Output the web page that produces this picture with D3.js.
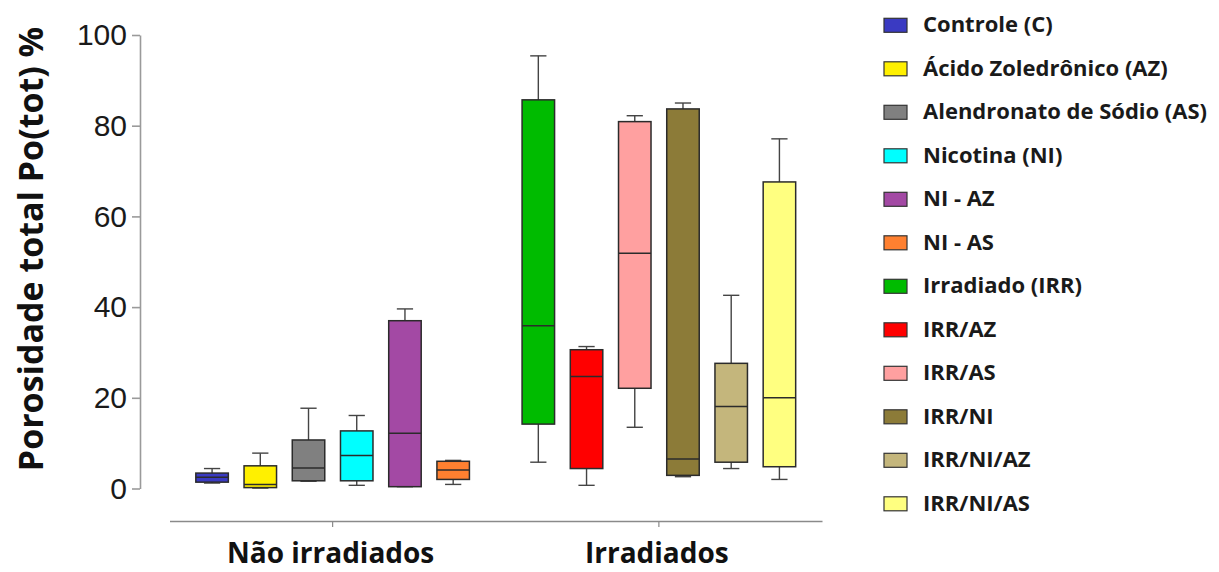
<!DOCTYPE html>
<html>
<head>
<meta charset="utf-8">
<script src="https://cdnjs.cloudflare.com/ajax/libs/d3/7.8.5/d3.min.js"></script>
<style>
  body { margin: 0; background: #fff; }
  .axis-label { font-family: "Open Sans", sans-serif; font-weight: bold; fill: #111; }
  .tick-label { font-family: "Liberation Sans", Arial, sans-serif; }
  .legend text { font-family: "Open Sans", sans-serif; font-weight: bold; fill: #1a1a1a; }
</style>
</head>
<body>
<div id="chart"></div>
<script>
// groups on the x axis
var groups = ["Não irradiados", "Irradiados"];

// series (one box per series)
var seriesNames = ["Controle (C)", "Ácido Zoledrônico (AZ)", "Alendronato de Sódio (AS)", "Nicotina (NI)",
  "NI - AZ", "NI - AS", "Irradiado (IRR)", "IRR/AZ", "IRR/AS", "IRR/NI", "IRR/NI/AZ", "IRR/NI/AS"];
var seriesGroup = [0, 0, 0, 0, 0, 0, 1, 1, 1, 1, 1, 1];
var seriesColors = ["#3a3ac2", "#fff000", "#808080", "#00ffff", "#a349a4", "#ff8030",
  "#00bb00", "#ff0000", "#ffa0a0", "#8c7b38", "#c4b67c", "#ffff80"];

// box plot values
var whiskerLow  = [1.2, 0.1, 1.6, 0.7, 0.4, 0.9, 5.8, 0.7, 13.5, 2.6, 4.4, 2.0];
var q1          = [1.4, 0.2, 1.7, 1.7, 0.4, 2.0, 14.2, 4.4, 22.1, 2.9, 5.8, 4.8];
var median      = [2.5, 0.9, 4.5, 7.3, 12.2, 4.1, 35.9, 24.7, 51.9, 6.5, 18.1, 20.0];
var q3          = [3.4, 5.0, 10.7, 12.7, 37.0, 6.0, 85.7, 30.6, 80.9, 83.7, 27.6, 67.6];
var whiskerHigh = [4.4, 7.8, 17.7, 16.1, 39.6, 6.2, 95.4, 31.3, 82.2, 85.0, 42.6, 77.1];

var yTicks = [0, 20, 40, 60, 80, 100];
var yLabel = "Porosidade total Po(tot) %";

function BoxChart(chartId) {
  var containerwidth = 1219;
  var containerheight = 572;

  var svg = d3.select(chartId)
    .append("svg")
    .attr("width", containerwidth)
    .attr("height", containerheight);

  var data = seriesNames.map(function(name, i) {
    var inGroup = seriesGroup.slice(0, i).filter(function(g) { return g === seriesGroup[i]; }).length;
    return {
      key: name, group: groups[seriesGroup[i]], slot: inGroup, color: seriesColors[i],
      lo: whiskerLow[i], q1: q1[i], med: median[i], q3: q3[i], hi: whiskerHigh[i]
    };
  });

  // scales
  var x0Scale = d3.scaleBand().domain(groups).range([169.5, 822]);
  var x1Scale = d3.scaleBand().domain(d3.range(6))
    .range([0, x0Scale.bandwidth()]).paddingInner(0.326).paddingOuter(0.546);
  var yScale = d3.scaleLinear().domain([0, 100]).range([488.5, 35]);

  // y axis
  var yAxis = d3.axisLeft(yScale).tickValues(yTicks).tickSize(8).tickPadding(5).tickSizeOuter(0);
  var yAxisG = svg.append("g").attr("transform", "translate(140,0)").call(yAxis);
  yAxisG.select(".domain").attr("stroke", "#9a9a9a").attr("stroke-width", 1.6);
  yAxisG.selectAll(".tick line").attr("stroke", "#9a9a9a").attr("stroke-width", 1.6);
  yAxisG.selectAll(".tick text")
    .attr("class", "tick-label")
    .style("font-size", "30px")
    .attr("fill", "#1a1a1a");

  svg.append("text")
    .attr("class", "axis-label")
    .attr("transform", "translate(43,249) rotate(-90)")
    .style("text-anchor", "middle")
    .style("font-size", "34px")
    .text(yLabel);

  // x axis
  var xAxis = d3.axisBottom(x0Scale).tickSize(6).tickSizeOuter(0).tickFormat("");
  var xAxisG = svg.append("g").attr("transform", "translate(0,521)").call(xAxis);
  xAxisG.select(".domain").attr("stroke", "#8a8a8a").attr("stroke-width", 1.6);
  xAxisG.selectAll(".tick line").attr("stroke", "#8a8a8a").attr("stroke-width", 1.2);

  svg.selectAll("text.group-label")
    .data(groups)
    .enter().append("text")
    .attr("class", "axis-label group-label")
    .attr("x", function(d) { return x0Scale(d) + x0Scale.bandwidth() / 2 - 2; })
    .attr("y", 563)
    .style("text-anchor", "middle")
    .style("font-size", "28px")
    .text(function(d) { return d; });

  // boxes
  var boxW = x1Scale.bandwidth();
  var boxG = svg.append("g").attr("class", "data-points-box")
    .selectAll("g")
    .data(data)
    .enter().append("g")
    .attr("transform", function(d) { return "translate(" + (x0Scale(d.group) + x1Scale(d.slot)) + ",0)"; });

  var stroke = "#2b2b2b";
  // whiskers
  boxG.append("line")
    .attr("x1", boxW / 2).attr("x2", boxW / 2)
    .attr("y1", function(d) { return yScale(d.hi); })
    .attr("y2", function(d) { return yScale(d.lo); })
    .attr("stroke", "#444").attr("stroke-width", 1.4);
  boxG.selectAll("line.cap")
    .data(function(d) { return [d.lo, d.hi]; })
    .enter().append("line")
    .attr("class", "cap")
    .attr("x1", boxW * 0.25).attr("x2", boxW * 0.75)
    .attr("y1", function(v) { return yScale(v); })
    .attr("y2", function(v) { return yScale(v); })
    .attr("stroke", "#444").attr("stroke-width", 1.4);
  // box
  boxG.append("rect")
    .attr("x", 0)
    .attr("width", boxW)
    .attr("y", function(d) { return yScale(d.q3); })
    .attr("height", function(d) { return yScale(d.q1) - yScale(d.q3); })
    .attr("fill", function(d) { return d.color; })
    .attr("stroke", stroke).attr("stroke-width", 1.5);
  // median
  boxG.append("line")
    .attr("x1", 0).attr("x2", boxW)
    .attr("y1", function(d) { return yScale(d.med); })
    .attr("y2", function(d) { return yScale(d.med); })
    .attr("stroke", stroke).attr("stroke-width", 1.5);

  // legend
  var legend = svg.append("g").attr("class", "legend")
    .selectAll("g")
    .data(data)
    .enter().append("g")
    .attr("transform", function(d, i) { return "translate(884," + (25.3 + i * 43.5) + ")"; });
  legend.append("rect")
    .attr("x", 0).attr("y", -7)
    .attr("width", 23).attr("height", 14)
    .attr("fill", function(d) { return d.color; })
    .attr("stroke", "#333").attr("stroke-width", 1.2);
  legend.append("text")
    .attr("x", 39)
    .attr("y", 1)
    .attr("dominant-baseline", "middle")
    .style("font-size", "22px")
    .text(function(d) { return d.key; });
}

BoxChart("#chart");
</script>
</body>
</html>
